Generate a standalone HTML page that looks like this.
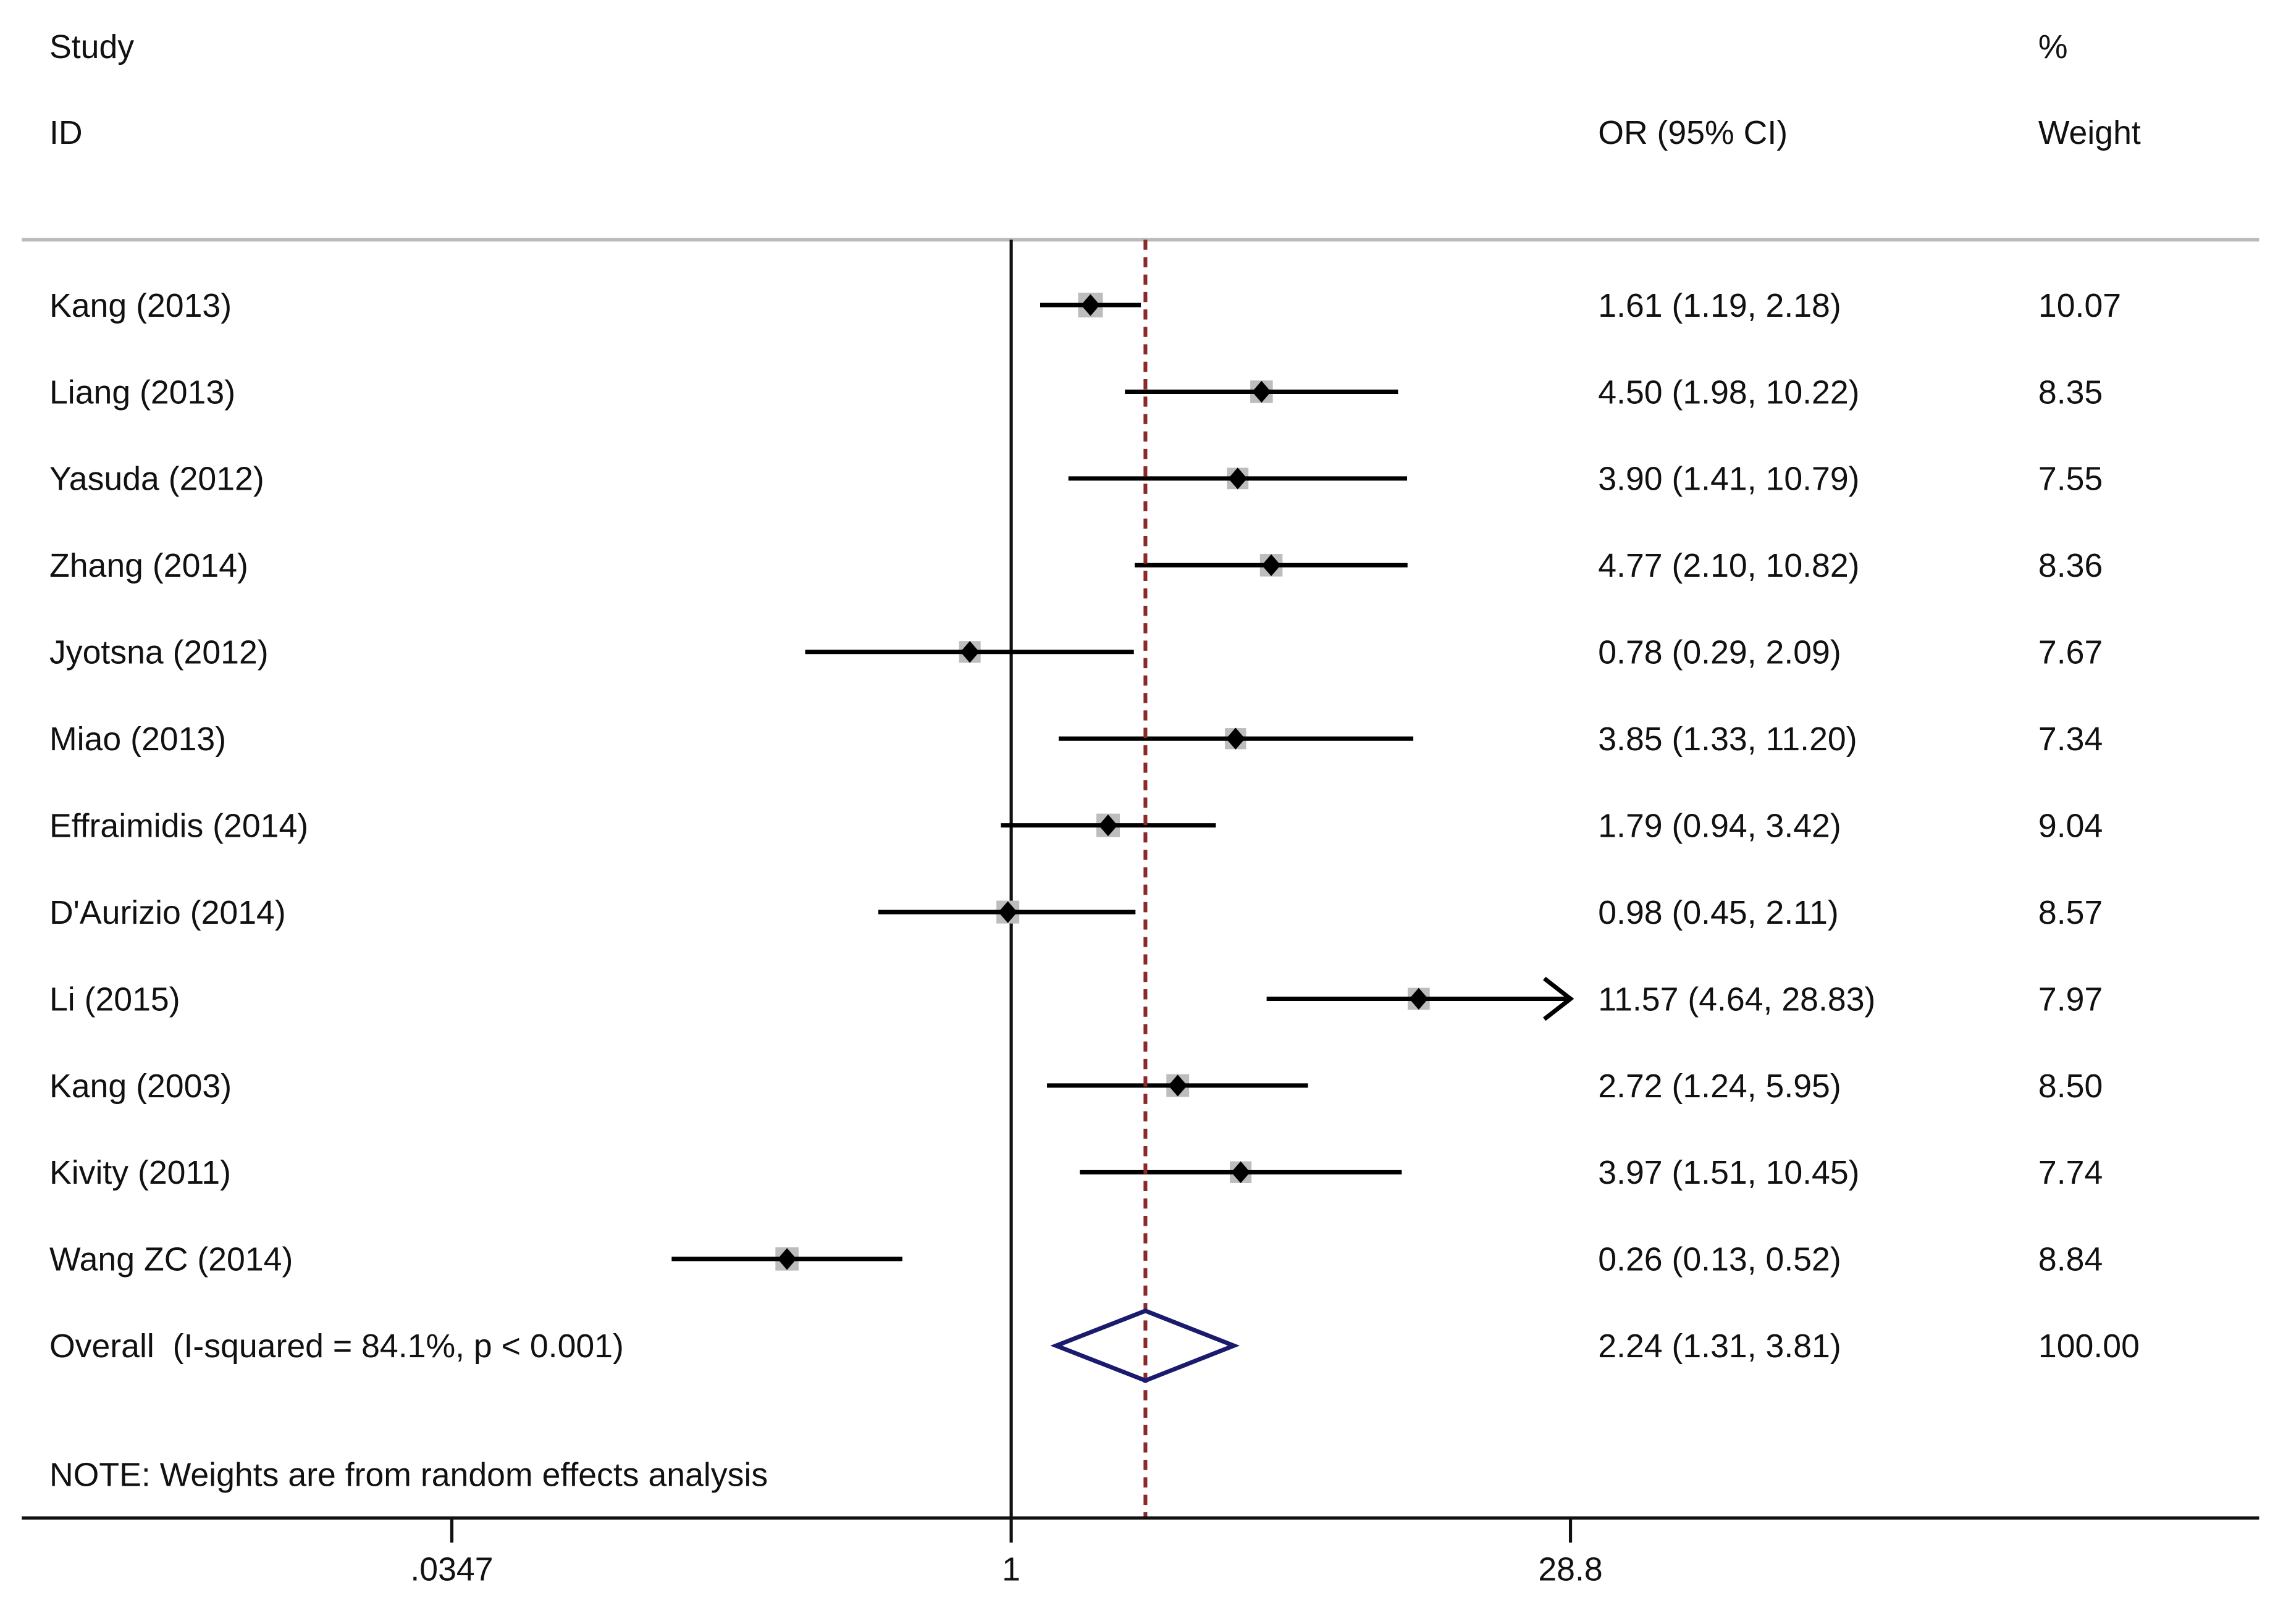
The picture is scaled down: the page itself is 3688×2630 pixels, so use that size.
<!DOCTYPE html>
<html><head><meta charset="utf-8"><style>
html,body{margin:0;padding:0;background:#fff;}
svg{display:block;}
text{font-family:"Liberation Sans",Arial,sans-serif;font-size:22.8px;fill:#111;white-space:pre;}
</style></head><body>
<svg id="chart" width="3688" height="2630" viewBox="0 0 1568 1118" preserveAspectRatio="none" xmlns="http://www.w3.org/2000/svg" xml:space="preserve">
<rect width="1568" height="1118" fill="#fff"/>
<text x="34" y="40">Study</text>
<text x="34" y="99">ID</text>
<text x="1100" y="99">OR (95% CI)</text>
<text x="1403" y="40">%</text>
<text x="1403" y="99">Weight</text>
<line x1="15" y1="165" x2="1555" y2="165" stroke="#bbb" stroke-width="2.5"/>
<g id="rows"></g>
<text x="34" y="1023">NOTE: Weights are from random effects analysis</text>
<line x1="15" y1="1045" x2="1555" y2="1045" stroke="#111" stroke-width="2.2"/>
<g id="ticks"></g>
</svg>
<script>
const studies=["Kang (2013)","Liang (2013)","Yasuda (2012)","Zhang (2014)","Jyotsna (2012)","Miao (2013)","Effraimidis (2014)","D'Aurizio (2014)","Li (2015)","Kang (2003)","Kivity (2011)","Wang ZC (2014)"];
const orVals=[1.61,4.50,3.90,4.77,0.78,3.85,1.79,0.98,11.57,2.72,3.97,0.26];
const lowVals=[1.19,1.98,1.41,2.10,0.29,1.33,0.94,0.45,4.64,1.24,1.51,0.13];
const highVals=[2.18,10.22,10.79,10.82,2.09,11.20,3.42,2.11,28.83,5.95,10.45,0.52];
const weights=[10.07,8.35,7.55,8.36,7.67,7.34,9.04,8.57,7.97,8.50,7.74,8.84];
const overall=[2.24,1.31,3.81];
const overallLabel="Overall  (I-squared = 84.1%, p < 0.001)";
const tickVals=[0.0347,1,28.8];
const tickLabels=[".0347","1","28.8"];
const NS="http://www.w3.org/2000/svg";
const xMin=0.0347,xMax=28.8,px0=311,px1=1081;
function X(v){return px0+(Math.log(v)-Math.log(xMin))/(Math.log(xMax)-Math.log(xMin))*(px1-px0);}
const rowY0=210,rowStep=59.7;
function Y(i){return rowY0+i*rowStep;}
function mk(tag,at,parent){const e=document.createElementNS(NS,tag);for(const k in at)e.setAttribute(k,at[k]);parent.appendChild(e);return e;}
const g=document.getElementById('rows');
const fmt=v=>v.toFixed(2);
const nl=mk('line',{x1:X(1),y1:165,x2:X(1),y2:1045,stroke:'#111','stroke-width':2.2},g);


studies.forEach((s,i)=>{
  const y=Y(i);
  const t=mk('text',{x:34,y:y+8},g);t.textContent=s;
  
  
  const sz=17*Math.sqrt(weights[i]/10);
  const b=mk('rect',{x:X(orVals[i])-sz/2,y:y-sz/2,width:sz,height:sz,fill:'#bdbdbd'},g);
  
  
  const clip=highVals[i]>xMax;
  const hx=clip?X(xMax):X(highVals[i]);
  const l=mk('line',{x1:X(lowVals[i]),y1:y,x2:hx,y2:y,stroke:'#000','stroke-width':3},g);
  
  
  if(clip){
    const a=mk('polyline',{points:`${hx-18},${y-14} ${hx},${y} ${hx-18},${y+14}`,fill:'none',stroke:'#000','stroke-width':3},g);
    
    
  }
  const cx=X(orVals[i]);
  const d=mk('polygon',{points:`${cx},${y-7.5} ${cx+6.5},${y} ${cx},${y+7.5} ${cx-6.5},${y}`,fill:'#000'},g);
  
  
  const o=mk('text',{x:1100,y:y+8},g);o.textContent=`${fmt(orVals[i])} (${fmt(lowVals[i])}, ${fmt(highVals[i])})`;
  
  
  const w=mk('text',{x:1403,y:y+8},g);w.textContent=fmt(weights[i]);
  
  
});
const oy=Y(studies.length);
const ox=X(overall[0]);
const dl=mk('line',{x1:ox,y1:165,x2:ox,y2:1045,stroke:'#8b2a2a','stroke-width':2.6,'stroke-dasharray':'7,5'},g);


const od=mk('polygon',{points:`${X(overall[1])},${oy} ${ox},${oy-24} ${X(overall[2])},${oy} ${ox},${oy+24}`,fill:'none',stroke:'#1a1a6e','stroke-width':3},g);


const ot=mk('text',{x:34,y:oy+8},g);ot.textContent=overallLabel;


const oo=mk('text',{x:1100,y:oy+8},g);oo.textContent=`${fmt(overall[0])} (${fmt(overall[1])}, ${fmt(overall[2])})`;


const ow=mk('text',{x:1403,y:oy+8},g);ow.textContent="100.00";


const tg=document.getElementById('ticks');
tickVals.forEach((v,i)=>{
  const x=X(v);
  const tl=mk('line',{x1:x,y1:1045,x2:x,y2:1062,stroke:'#111','stroke-width':2.2},tg);
  
  
  const tt=mk('text',{x:x,y:1088,'text-anchor':'middle'},tg);tt.textContent=tickLabels[i];
  
  
});
</script>
</body></html>
